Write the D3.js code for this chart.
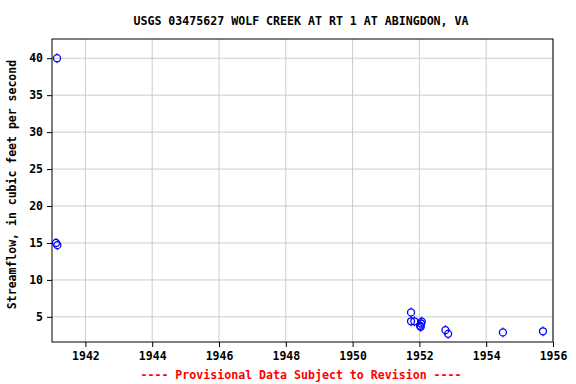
<!DOCTYPE html>
<html>
<head>
    <title>USGS 03475627 Wolf Creek</title>
    <script src="https://d3js.org/d3.v7.min.js"></script>
    <style>
        body { margin: 0; background: #fff; }
        svg text { font-family: "DejaVu Sans Mono", monospace; font-weight: bold; }
    </style>
</head>
<body>
    <div id="chart"></div>
    <script>
        // measurement dates (decimal year) and streamflow, cfs
        const dates = [1941.15, 1941.12, 1941.16, 1951.75, 1951.75, 1951.85, 1952.02, 1952.07, 1952.05, 1952.04, 1952.78, 1952.86, 1954.50, 1955.70];
        const flows = [40.0, 15.0, 14.7, 5.6, 4.4, 4.4, 3.8, 4.35, 4.1, 3.65, 3.2, 2.7, 2.9, 3.05];
        const xTicks = [1942, 1944, 1946, 1948, 1950, 1952, 1954, 1956];
        const yTicks = [5, 10, 15, 20, 25, 30, 35, 40];
        const title = "USGS 03475627 WOLF CREEK AT RT 1 AT ABINGDON, VA";
        const yLabel = "Streamflow, in cubic feet per second";
        const footer = "---- Provisional Data Subject to Revision ----";

        const width = 576, height = 384;
        const margin = { top: 39, right: 23, bottom: 42, left: 52 };
        const plotW = width - margin.left - margin.right;
        const plotH = height - margin.top - margin.bottom;

        const svg = d3.select('#chart').append('svg')
            .attr('width', width)
            .attr('height', height);

        const x = d3.scaleLinear().domain([1941.0, 1956.0]).range([0, plotW]);
        const y = d3.scaleLinear().domain([1.6, 42.6]).range([plotH, 0]);

        const g = svg.append('g')
            .attr('transform', `translate(${margin.left},${margin.top})`);

        // grid
        g.append('g').selectAll('line').data(xTicks).enter().append('line')
            .attr('x1', d => x(d)).attr('x2', d => x(d))
            .attr('y1', 0).attr('y2', plotH)
            .attr('stroke', '#cccccc');
        g.append('g').selectAll('line').data(yTicks).enter().append('line')
            .attr('x1', 0).attr('x2', plotW)
            .attr('y1', d => y(d)).attr('y2', d => y(d))
            .attr('stroke', '#cccccc');

        // axes
        const xAxis = g.append('g')
            .attr('transform', `translate(0,${plotH})`)
            .call(d3.axisBottom(x).tickValues(xTicks).tickFormat(d3.format('d')).tickSize(5).tickPadding(5));
        const yAxis = g.append('g')
            .call(d3.axisLeft(y).tickValues(yTicks).tickSize(5).tickPadding(4));
        [xAxis, yAxis].forEach(a => {
            a.select('.domain').remove();
            a.selectAll('text').attr('font-size', 11.5).attr('fill', '#000')
                .style('font-family', '"DejaVu Sans Mono", monospace').style('font-weight', 'bold');
            a.selectAll('line').attr('stroke', '#000');
        });

        // frame
        g.append('rect')
            .attr('width', plotW).attr('height', plotH)
            .attr('fill', 'none').attr('stroke', '#000').attr('stroke-width', 1);

        // points
        const pts = g.append('g').selectAll('g').data(dates).enter().append('g')
            .attr('transform', (d, i) => `translate(${x(d)},${y(flows[i])})`);
        pts.append('circle')
            .attr('r', 3.5)
            .attr('fill', 'none')
            .attr('stroke', '#0000ff')
            .attr('stroke-width', 1.3);
        pts.append('path')
            .attr('d', 'M0,-5V-3.5M0,3.5V5')
            .attr('stroke', '#0000ff')
            .attr('stroke-width', 1);

        // title
        svg.append('text')
            .attr('x', 301).attr('y', 25)
            .attr('text-anchor', 'middle').attr('font-size', 11.6)
            .text(title);

        // y label
        svg.append('text')
            .attr('transform', `translate(16,${margin.top + plotH / 2 - 6}) rotate(-90)`)
            .attr('text-anchor', 'middle').attr('font-size', 11.5)
            .text(yLabel);

        // footer
        svg.append('text')
            .attr('x', 301).attr('y', 379)
            .attr('text-anchor', 'middle').attr('font-size', 11.6)
            .attr('fill', '#ff0000')
            .text(footer);
    </script>
</body>
</html>
